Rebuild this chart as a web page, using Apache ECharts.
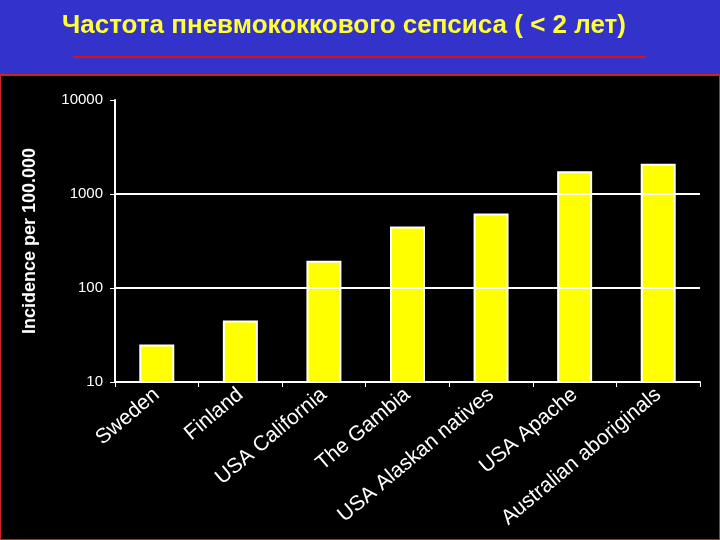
<!DOCTYPE html><html><head><meta charset="utf-8"><script src="https://cdn.jsdelivr.net/npm/echarts@6/dist/echarts.min.js"></script>
<style>html,body{margin:0;background:#3333cc}#c{width:720px;height:540px}</style></head><body><div id="c"></div><script>
const categories=['Sweden','Finland','USA California','The Gambia','USA Alaskan natives','USA Apache','Australian aboriginals'];
const values=[25,45,195,450,620,1750,2100];
const yTicks=[10,100,1000,10000];
const gridLines=[100,1000];
const ch=echarts.init(document.getElementById('c'));
ch.setOption({
backgroundColor:'#3333cc',
graphic:[
{type:'rect',shape:{x:0,y:75,width:720,height:465},style:{fill:'#000',stroke:'#cc2222',lineWidth:2}},
{type:'line',shape:{x1:73,y1:57,x2:645,y2:57},style:{stroke:'#dd1111',lineWidth:2}},
{type:'text',left:62,top:13,style:{text:'Частота пневмококкового сепсиса ( < 2 лет)',fill:'#ffff33',font:'bold 26px Liberation Sans'}}
],
grid:{left:115,right:20,top:100,bottom:158},
xAxis:{type:'category',data:categories,axisLine:{lineStyle:{color:'#fff',width:2}},axisTick:{show:true,length:5,lineStyle:{color:'#fff'}},
axisLabel:{color:'#fff',fontSize:21,fontFamily:'Liberation Sans',rotate:40,interval:0,margin:10}},
yAxis:{type:'log',min:10,max:10000,logBase:10,name:'Incidence per 100.000',nameLocation:'middle',nameGap:76,nameRotate:90,
nameTextStyle:{color:'#fff',fontSize:18,fontWeight:'bold',fontFamily:'Liberation Sans'},
axisLine:{show:true,lineStyle:{color:'#fff',width:2}},axisTick:{show:true,length:5,lineStyle:{color:'#fff'}},
axisLabel:{color:'#fff',fontSize:15,fontFamily:'Liberation Sans',margin:12,formatter:v=>yTicks.includes(Math.round(v))?String(Math.round(v)):''},
splitLine:{show:false}},
series:[{type:'bar',data:values,barWidth:35,itemStyle:{color:'#ffff00',borderColor:'#fff',borderWidth:2},
markLine:{silent:true,symbol:'none',label:{show:false},lineStyle:{color:'#fff',width:2,type:'solid'},data:gridLines.map(v=>({yAxis:v}))},z:3}]
});
</script></body></html>
